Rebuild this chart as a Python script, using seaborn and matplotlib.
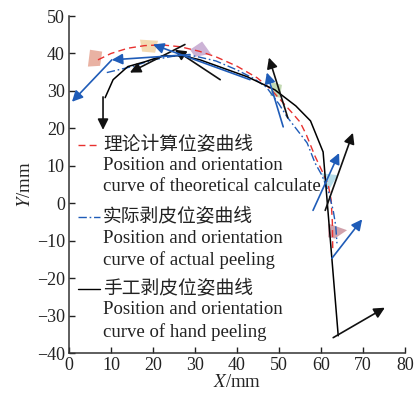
import numpy as np
import pandas as pd
import seaborn as sns
import matplotlib.pyplot as plt

# theoretical pose curve (red dashed)
theo_x = [6.9, 10, 14, 18, 22, 26.5, 31, 35, 40, 44.8, 48, 51, 53, 55, 56.5, 58.6, 60.5, 61.7, 62.4, 62.7, 62.8]
theo_y = [38.3, 40, 41.4, 42.1, 42.3, 41.8, 40.6, 39.1, 36.6, 33.5, 30.5, 26.8, 24.3, 21.7, 18.3, 12.5, 8, 5, 1, -5, -12.5]

# actual peeling pose curve (blue dash-dot)
act_x = [9, 12, 15, 20, 25, 30, 35, 40, 44, 47, 50, 51.9, 54.3, 56.7, 58.6, 60.2, 61.8, 62.9, 63.5, 63.8]
act_y = [34.9, 35.7, 36.5, 38.3, 39.3, 39.3, 38, 35.6, 33.3, 31, 26.5, 23.1, 19.6, 16.1, 10.7, 7.5, 3, -1.9, -6, -10.7]

# hand peeling pose curve (black)
hand_x = [8.6, 10.5, 14, 18.1, 22.4, 27.1, 31.2, 42.4, 49, 54, 57.5, 60.5, 64.1]
hand_y = [28.2, 33, 36.5, 37.8, 39.4, 39.4, 38.3, 33.8, 30.3, 26, 22, 13.7, -35.4]

# orientation arrows: (x0, y0, x1, y1)
hand_arrows = [(8.1, 28.4, 8.1, 19.6), (27.6, 42.4, 14.5, 34.9), (36, 33, 25.2, 41),
               (52.1, 22.8, 47.6, 38.9), (61, -1.9, 67.6, 18.8), (62.9, -35.9, 75.2, -27.9)]
act_arrows = [(10.2, 38.3, 0.7, 27.1), (28.8, 39.7, 10.2, 38.3), (43.1, 33, 20, 42.4),
              (51, 20.4, 47.1, 34.9), (58.1, -1.9, 64.3, 13.4), (62.6, -14.7, 69.8, -4.3)]

# pose frames (quadrilaterals)
quad_x = [[5, 7.9, 7.4, 4.5], [16.9, 21.2, 20.5, 17.4], [31.7, 33.8, 30, 28.8],
          [48.3, 50.7, 50.2, 47.9], [60.2, 64, 62.1, 61], [61.7, 66.2, 63.3, 61.7]]
quad_y = [[41, 40.5, 36.7, 36.5], [43.7, 43.4, 40.2, 40.5], [43.2, 39.9, 39.1, 41],
          [32.4, 31.6, 28.2, 28.7], [8, 7.5, 4, 4.3], [-5.4, -7.2, -9.4, -9.1]]
quad_colors = ['#e6a593', '#f2d3a4', '#c4a6cf', '#b9d3a6', '#a9d8e6', '#c9929e']

legend_labels = ['理论计算位姿曲线', 'Position and orientation', 'curve of theoretical calculate',
                 '实际剥皮位姿曲线', 'Position and orientation', 'curve of actual peeling',
                 '手工剥皮位姿曲线', 'Position and orientation', 'curve of hand peeling']

sns.set_style('ticks')
plt.rcParams['font.family'] = ['Liberation Serif', 'Noto Sans CJK SC', 'DejaVu Sans']
plt.rcParams['mathtext.fontset'] = 'stix'
plt.rcParams['axes.unicode_minus'] = True

fig = plt.figure(figsize=(4.2, 4.01), dpi=100)
ax = fig.add_axes([0.1643, 0.1197, 0.80, 0.8403])

red = '#e8312f'
blue = '#1f5cb8'

for qx, qy, c in zip(quad_x, quad_y, quad_colors):
    ax.fill(qx, qy, color=c, alpha=0.85, lw=0, zorder=1)

sns.lineplot(x=theo_x, y=theo_y, sort=False, estimator=None, color=red, lw=1.0, ax=ax, zorder=3)
ax.lines[-1].set_dashes([5, 3])
sns.lineplot(x=act_x, y=act_y, sort=False, estimator=None, color=blue, lw=1.0, ax=ax, zorder=3)
ax.lines[-1].set_dashes([6, 2, 1.2, 2])
sns.lineplot(x=hand_x, y=hand_y, sort=False, estimator=None, color='black', lw=1.1, ax=ax, zorder=3)

for x0, y0, x1, y1 in hand_arrows:
    ax.annotate('', xy=(x1, y1), xytext=(x0, y0),
                arrowprops=dict(arrowstyle='-|>', color='#111111', lw=1.2, mutation_scale=16,
                                shrinkA=0, shrinkB=0), zorder=4)
for x0, y0, x1, y1 in act_arrows:
    ax.annotate('', xy=(x1, y1), xytext=(x0, y0),
                arrowprops=dict(arrowstyle='-|>', color=blue, lw=1.2, mutation_scale=16,
                                shrinkA=0, shrinkB=0), zorder=4)

ax.set_xlim(0, 80)
ax.set_ylim(-40, 50)
ax.set_xticks(range(0, 81, 10))
ax.set_yticks(range(-40, 51, 10))
ax.tick_params(direction='in', length=4, width=1, labelsize=13, colors='#222222', pad=3)
for s in ['left', 'bottom']:
    ax.spines[s].set_color('#333333')
    ax.spines[s].set_linewidth(1.1)
sns.despine(ax=ax)
ax.set_xlabel('$X$/mm', fontsize=13.5, labelpad=0)
ax.set_ylabel('$Y$/mm', fontsize=13.5, labelpad=2)

# legend drawn by hand: handle next to the first line of each entry
handle_styles = [dict(color=red, dashes=[5, 3]), dict(color=blue, dashes=[6, 2, 1.2, 2]),
                 dict(color='black')]
line_y = [0.617, 0.555, 0.493, 0.404, 0.341, 0.276, 0.190, 0.128, 0.062]
for i, st in enumerate(handle_styles):
    yy = line_y[3 * i]
    ln, = ax.plot([0.027, 0.092], [yy, yy], transform=ax.transAxes, lw=1.0, color=st['color'])
    if 'dashes' in st:
        ln.set_dashes(st['dashes'])
for lab, yy in zip(legend_labels, line_y):
    ax.text(0.101, yy, lab, transform=ax.transAxes, fontsize=13.5, va='center', ha='left',
            color='#222222')

fig.savefig('out.png', dpi=100)
